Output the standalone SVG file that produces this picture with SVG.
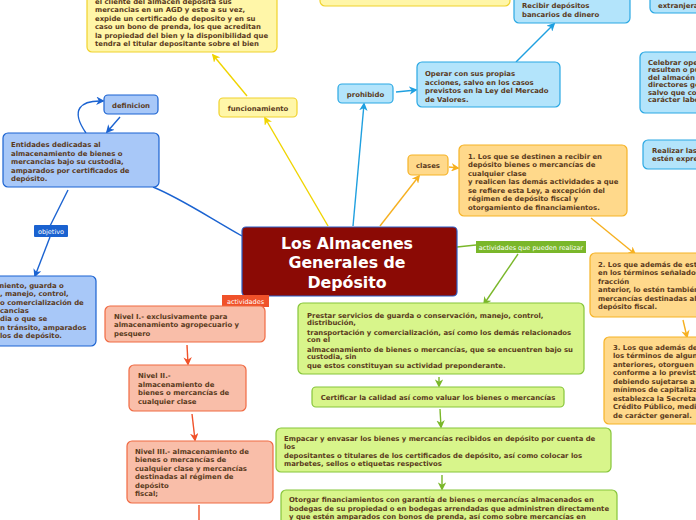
<svg xmlns="http://www.w3.org/2000/svg" width="696" height="520" viewBox="0 0 696 520">
<defs>
<style>
text{font-family:"DejaVu Sans","Liberation Sans",sans-serif;font-weight:bold;}
.t{font-size:6.9px;fill:#5a3a1c;}
.c{text-anchor:middle;}
.yel rect{fill:#fff6a8;stroke:#f0d22c;stroke-width:1.2;}
.lb rect{fill:#b3e4fb;stroke:#2aa8e3;stroke-width:1.2;}
.db rect{fill:#a8c8f8;stroke:#1b63d1;stroke-width:1.2;}
.or rect{fill:#ffd98b;stroke:#f6b327;stroke-width:1.2;}
.gr rect{fill:#d8f58b;stroke:#86c53a;stroke-width:1.2;}
.sa rect{fill:#f9bea9;stroke:#f06a43;stroke-width:1.2;}
.tag{font-size:6.5px;fill:#fff;font-weight:normal;}
#connectors path{fill:none;stroke-width:1.4;}
</style>
<marker id="aY" viewBox="0 0 10 10" refX="8" refY="5" markerWidth="6" markerHeight="6" orient="auto"><path d="M0,0L10,5L0,10L3,5z" fill="#f0d400"/></marker>
<marker id="aL" viewBox="0 0 10 10" refX="8" refY="5" markerWidth="6" markerHeight="6" orient="auto"><path d="M0,0L10,5L0,10L3,5z" fill="#1fa0e0"/></marker>
<marker id="aD" viewBox="0 0 10 10" refX="8" refY="5" markerWidth="6" markerHeight="6" orient="auto"><path d="M0,0L10,5L0,10L3,5z" fill="#1b63d1"/></marker>
<marker id="aO" viewBox="0 0 10 10" refX="8" refY="5" markerWidth="6" markerHeight="6" orient="auto"><path d="M0,0L10,5L0,10L3,5z" fill="#f6b020"/></marker>
<marker id="aG" viewBox="0 0 10 10" refX="8" refY="5" markerWidth="6" markerHeight="6" orient="auto"><path d="M0,0L10,5L0,10L3,5z" fill="#7ab72a"/></marker>
<marker id="aS" viewBox="0 0 10 10" refX="8" refY="5" markerWidth="6" markerHeight="6" orient="auto"><path d="M0,0L10,5L0,10L3,5z" fill="#f0522a"/></marker>
</defs>
<rect width="696" height="520" fill="#fff"/>

<g id="connectors">
<path d="M328,226 L265,118" stroke="#f0d400" marker-end="url(#aY)"/>
<path d="M247,96 L213,55" stroke="#f0d400" marker-end="url(#aY)"/>
<path d="M353,226 L364,104" stroke="#1fa0e0" marker-end="url(#aL)"/>
<path d="M396,92 L416,90" stroke="#1fa0e0" marker-end="url(#aL)"/>
<path d="M516,62 L554,24" stroke="#1fa0e0" marker-end="url(#aL)"/>
<path d="M380,226 L419,176" stroke="#f6b020" marker-end="url(#aO)"/>
<path d="M449,167 L458,168" stroke="#f6b020" marker-end="url(#aO)"/>
<path d="M591,218 L635,254" stroke="#f6b020" marker-end="url(#aO)"/>
<path d="M683,320 L687,337" stroke="#f6b020" marker-end="url(#aO)"/>
<path d="M242,236 C205,215 180,198 153,187" stroke="#1b63d1"/>
<path d="M86,133 C70,110 80,100 103,101" stroke="#1b63d1" marker-end="url(#aD)"/>
<path d="M120,117 L107,132" stroke="#1b63d1" marker-end="url(#aD)"/>
<path d="M68,190 L50,226" stroke="#1b63d1"/>
<path d="M50,237 L35,276" stroke="#1b63d1" marker-end="url(#aD)"/>
<path d="M457,247 L476,245" stroke="#7ab72a"/>
<path d="M518,254 L484,304" stroke="#7ab72a" marker-end="url(#aG)"/>
<path d="M439,377 L439,386" stroke="#7ab72a" marker-end="url(#aG)"/>
<path d="M440,409 L441,427" stroke="#7ab72a" marker-end="url(#aG)"/>
<path d="M442,475 L442,489" stroke="#7ab72a" marker-end="url(#aG)"/>
<path d="M187,345 L188,364" stroke="#f0522a" marker-end="url(#aS)"/>
<path d="M192,414 L195,440" stroke="#f0522a" marker-end="url(#aS)"/>
<path d="M199,505 L199,520" stroke="#f0522a"/>
</g>

<g id="central">
<rect x="242" y="227" width="215" height="69" rx="4" fill="#8b0a05" stroke="#2a5fc8" stroke-width="1.2"/>
<text x="347" y="249" fill="#fff" font-size="15.8" class="c">Los Almacenes</text>
<text x="347" y="268" fill="#fff" font-size="15.8" class="c">Generales de</text>
<text x="347" y="288" fill="#fff" font-size="15.8" class="c">Depósito</text>
</g>

<g id="n-cliente" class="yel">
<rect x="87" y="-20" width="190" height="72" rx="5"/>
<text class="t" x="95" y="4">el cliente del almacen deposita sus</text>
<text class="t" x="95" y="12">mercancias en un AGD y este a su vez,</text>
<text class="t" x="95" y="20.5">expide un certificado de deposito y en su</text>
<text class="t" x="95" y="29">caso un bono de prenda, los que acreditan</text>
<text class="t" x="95" y="37.5">la propiedad del bien y la disponibilidad que</text>
<text class="t" x="95" y="46">tendra el titular depositante sobre el bien</text>
</g>
<g id="n-top" class="yel"><rect x="320" y="-20" width="190" height="26" rx="5"/></g>
<g id="n-funcionamiento" class="yel">
<rect x="219" y="98" width="78" height="19" rx="4"/>
<text class="t c" x="258" y="110.5">funcionamiento</text>
</g>

<g id="n-recibir" class="lb">
<rect x="514" y="-20" width="116" height="43" rx="5"/>
<text class="t" x="522" y="8">Recibir depósitos</text>
<text class="t" x="522" y="16.5">bancarios de dinero</text>
</g>
<g id="n-extranjera" class="lb">
<rect x="650" y="-20" width="60" height="33" rx="5"/>
<text class="t" x="658" y="8">extranjera</text>
</g>
<g id="n-prohibido" class="lb">
<rect x="338" y="84" width="55" height="19" rx="4"/>
<text class="t c" x="365.5" y="96.5">prohibido</text>
</g>
<g id="n-operar" class="lb">
<rect x="417" y="62" width="143" height="45" rx="5"/>
<text class="t" x="425" y="76">Operar con sus propias</text>
<text class="t" x="425" y="84.5">acciones, salvo en los casos</text>
<text class="t" x="425" y="93">previstos en la Ley del Mercado</text>
<text class="t" x="425" y="101.5">de Valores.</text>
</g>
<g id="n-celebrar" class="lb">
<rect x="640" y="52" width="70" height="61" rx="5"/>
<text class="t" x="648" y="64.5">Celebrar operaciones</text>
<text class="t" x="648" y="72">resulten o puedan</text>
<text class="t" x="648" y="79.5">del almacén</text>
<text class="t" x="648" y="87">directores generales</text>
<text class="t" x="648" y="94.5">salvo que con</text>
<text class="t" x="648" y="102">carácter laboral</text>
</g>
<g id="n-realizar" class="lb">
<rect x="643" y="140" width="67" height="29" rx="5"/>
<text class="t" x="652" y="153">Realizar las operaciones</text>
<text class="t" x="652" y="161">estén expresamente</text>
</g>

<g id="n-definicion" class="db">
<rect x="104" y="95" width="54" height="19" rx="4"/>
<text class="t c" x="131" y="107.5">definicion</text>
</g>
<g id="n-entidades" class="db">
<rect x="3" y="133" width="156" height="54" rx="5"/>
<text class="t" x="11" y="147">Entidades dedicadas al</text>
<text class="t" x="11" y="155.5">almacenamiento de bienes o</text>
<text class="t" x="11" y="164">mercancias bajo su custodia,</text>
<text class="t" x="11" y="172.5">amparados por certificados de</text>
<text class="t" x="11" y="181">depósito.</text>
</g>
<g id="n-objetivo">
<rect x="34" y="225" width="34" height="12" rx="1" fill="#1a62d0"/>
<text class="tag c" x="51" y="233.5">objetivo</text>
</g>
<g id="n-almacenamiento" class="db">
<rect x="-20" y="276" width="116" height="70" rx="5"/>
<text class="t" x="-3" y="287.5">miento, guarda o</text>
<text class="t" x="0" y="296">, manejo, control,</text>
<text class="t" x="0" y="304.5">o  comercialización de</text>
<text class="t" x="0" y="312.5">cancias</text>
<text class="t" x="0" y="321">dia o que se</text>
<text class="t" x="0" y="329.5">n tránsito, amparados</text>
<text class="t" x="0" y="338">los de depósito.</text>
</g>

<g id="n-clases" class="or">
<rect x="408" y="155" width="40" height="20" rx="4"/>
<text class="t c" x="428" y="167.5">clases</text>
</g>
<g id="n-clase1" class="or">
<rect x="459" y="145" width="168" height="71" rx="5"/>
<text class="t" x="468" y="158.5">1. Los que se destinen a recibir en</text>
<text class="t" x="468" y="167">depósito bienes o mercancías de</text>
<text class="t" x="468" y="175.5">cualquier clase</text>
<text class="t" x="468" y="184">y realicen las demás actividades a que</text>
<text class="t" x="468" y="192.5">se refiere esta Ley, a excepción del</text>
<text class="t" x="468" y="201">régimen de depósito fiscal y</text>
<text class="t" x="468" y="209.5">otorgamiento de financiamientos.</text>
</g>
<g id="n-clase2" class="or">
<rect x="590" y="253" width="120" height="64" rx="5"/>
<text class="t" x="598" y="266.5">2. Los que además de estar</text>
<text class="t" x="598" y="275">en los términos señalados</text>
<text class="t" x="598" y="283.5">fracción</text>
<text class="t" x="598" y="292">anterior, lo estén también</text>
<text class="t" x="598" y="300.5">mercancías destinadas al</text>
<text class="t" x="598" y="309">depósito fiscal.</text>
</g>
<g id="n-clase3" class="or">
<rect x="604" y="337" width="110" height="87" rx="5"/>
<text class="t" x="613" y="349.5">3. Los que además de</text>
<text class="t" x="613" y="358">los términos de alguna</text>
<text class="t" x="613" y="366.5">anteriores, otorguen</text>
<text class="t" x="613" y="375">conforme a lo previsto</text>
<text class="t" x="613" y="383.5">debiendo sujetarse a</text>
<text class="t" x="613" y="392">mínimos de capitalización</text>
<text class="t" x="613" y="400.5">establezca la Secretaría</text>
<text class="t" x="613" y="409">Crédito Público, mediante</text>
<text class="t" x="613" y="417.5">de carácter general.</text>
</g>

<g id="n-actividades-realizar">
<rect x="476" y="241" width="110" height="12" fill="#7ab72a"/>
<text class="tag c" x="531" y="249.5">actividades que pueden realizar</text>
</g>
<g id="n-prestar" class="gr">
<rect x="298" y="303" width="286" height="71" rx="5"/>
<text class="t" x="307" y="317.5">Prestar servicios de guarda o conservación, manejo, control,</text>
<text class="t" x="307" y="325">distribución,</text>
<text class="t" x="307" y="334.5">transportación y comercialización, así como los demás relacionados</text>
<text class="t" x="307" y="342">con el</text>
<text class="t" x="307" y="351.5">almacenamiento de bienes o mercancías, que se encuentren bajo su</text>
<text class="t" x="307" y="359">custodia, sin</text>
<text class="t" x="307" y="368">que estos constituyan su actividad preponderante.</text>
</g>
<g id="n-certificar" class="gr">
<rect x="312" y="387" width="252" height="20" rx="4"/>
<text class="t c" x="438" y="399.5">Certificar la calidad así como valuar los bienes o mercancías</text>
</g>
<g id="n-empacar" class="gr">
<rect x="276" y="428" width="335" height="44" rx="5"/>
<text class="t" x="284" y="441">Empacar y envasar los bienes y mercancías recibidos en depósito por cuenta de</text>
<text class="t" x="284" y="449">los</text>
<text class="t" x="284" y="457.5">depositantes o titulares de los certificados de depósito, así como colocar los</text>
<text class="t" x="284" y="466">marbetes,  sellos o etiquetas respectivos</text>
</g>
<g id="n-otorgar" class="gr">
<rect x="281" y="490" width="336" height="50" rx="5"/>
<text class="t" x="289" y="502">Otorgar financiamientos con garantía de bienes o mercancías almacenados en</text>
<text class="t" x="289" y="510.5">bodegas de su propiedad o en bodegas arrendadas que administren directamente</text>
<text class="t" x="289" y="519">y que estén amparados con bonos de prenda, así como sobre mercancías en</text>
</g>

<g id="n-actividades">
<rect x="222" y="295" width="47" height="12" fill="#f0522a"/>
<text class="tag c" x="245.5" y="303.5">actividades</text>
</g>
<g id="n-nivel1" class="sa">
<rect x="105" y="306" width="160" height="36" rx="5"/>
<text class="t" x="114" y="318.5">Nivel I.- exclusivamente para</text>
<text class="t" x="114" y="327">almacenamiento agropecuario y</text>
<text class="t" x="114" y="335.5">pesquero</text>
</g>
<g id="n-nivel2" class="sa">
<rect x="129" y="365" width="117" height="46" rx="5"/>
<text class="t" x="138" y="378">Nivel II.-</text>
<text class="t" x="138" y="386.5">almacenamiento de</text>
<text class="t" x="138" y="395">bienes o mercancías de</text>
<text class="t" x="138" y="403.5">cualquier clase</text>
</g>
<g id="n-nivel3" class="sa">
<rect x="127" y="441" width="146" height="62" rx="5"/>
<text class="t" x="135" y="453.5">Nivel III.- almacenamiento de</text>
<text class="t" x="135" y="462">bienes o mercancías de</text>
<text class="t" x="135" y="470.5">cualquier clase y mercancías</text>
<text class="t" x="135" y="479">destinadas al régimen de</text>
<text class="t" x="135" y="487.5">depósito</text>
<text class="t" x="135" y="496">fiscal;</text>
</g>
</svg>
